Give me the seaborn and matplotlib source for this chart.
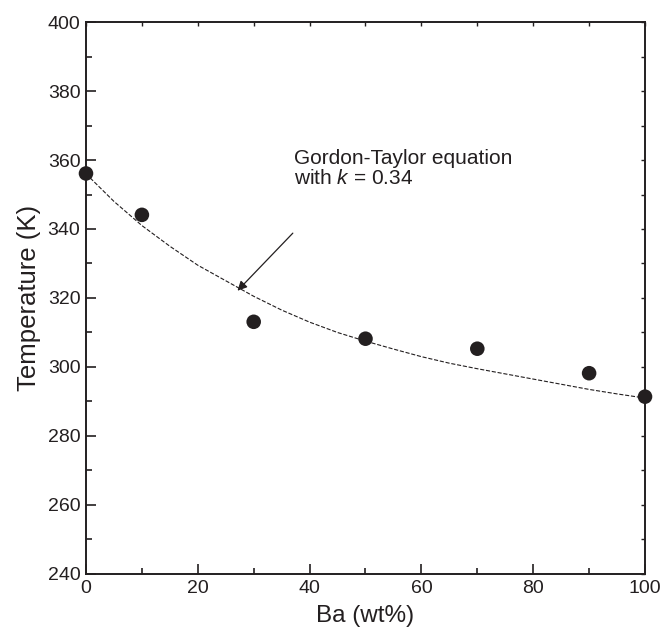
import numpy as np
import pandas as pd
from matplotlib import pyplot as plt
import seaborn as sns

# measured points
ba_wt = [0, 10, 30, 50, 70, 90, 100]
temp_k = [356.1, 344.1, 313.1, 308.2, 305.3, 298.2, 291.4]

# Gordon-Taylor curve
gt_x = [0, 5, 10, 15, 20, 25, 30, 35, 40, 45, 50, 55, 60, 65, 70, 75, 80, 85, 90, 95, 100]
gt_y = [356, 348, 341, 335, 329.5, 325, 320.5, 316.5, 313, 310, 307.5, 305.2, 303, 301.1,
        299.5, 298, 296.5, 295, 293.5, 292.2, 291]

sns.set_style('ticks')
plt.rcParams['font.family'] = ['Liberation Sans', 'DejaVu Sans']
plt.rcParams['mathtext.fontset'] = 'custom'
plt.rcParams['mathtext.it'] = 'Liberation Sans:italic'
plt.rcParams['mathtext.rm'] = 'Liberation Sans'
ink = '#231f20'

fig = plt.figure(figsize=(6.64, 6.36), dpi=100)
ax = fig.add_axes([0.1295, 0.0975, 0.8419, 0.8679])

sns.lineplot(x=gt_x, y=gt_y, ax=ax, color=ink, lw=0.8, dashes=(2.6, 2.0), linestyle='--')
sns.scatterplot(x=ba_wt, y=temp_k, ax=ax, color=ink, s=110, edgecolor='none',
                zorder=5, clip_on=False)

ax.set_xlim(0, 100)
ax.set_ylim(240, 400)
ax.set_xticks(np.arange(0, 101, 20))
ax.set_xticks(np.arange(0, 101, 10), minor=True)
ax.set_yticks(np.arange(240, 401, 20))
ax.set_yticks(np.arange(240, 401, 10), minor=True)
ax.tick_params(which='major', direction='in', length=7, width=1.2, colors=ink,
               labelsize=14, pad=4)
ax.tick_params(which='minor', direction='in', length=4, width=1.2, colors=ink)
for sp in ax.spines.values():
    sp.set_linewidth(1.4)
    sp.set_color(ink)
    sp.set_visible(True)

for side in ['top', 'right']:
    if side == 'top':
        sec = ax.secondary_xaxis('top')
        sec.set_xticks(np.arange(0, 101, 10))
    else:
        sec = ax.secondary_yaxis('right')
        sec.set_yticks(np.arange(240, 401, 10))
    sec.tick_params(direction='in', length=3, width=1.0, colors=ink,
                    labelleft=False, labelright=False, labeltop=False, labelbottom=False)
    sec.spines[side].set_visible(False)

ax.set_xlabel('Ba (wt%)', fontsize=17.5, color=ink, labelpad=6)
ax.set_ylabel('Temperature (K)', fontsize=18.5, color=ink, labelpad=5)

ax.text(37.2, 357.6, 'Gordon-Taylor equation\nwith $k$ = 0.34', fontsize=15,
        color=ink, va='center', ha='left', linespacing=1.1)
ax.annotate('', xy=(27.1, 322.1), xytext=(37.0, 338.8),
            arrowprops=dict(arrowstyle='-|>', color=ink, lw=0.9,
                            mutation_scale=14, shrinkA=0, shrinkB=0))

plt.savefig('out.png', dpi=100)
